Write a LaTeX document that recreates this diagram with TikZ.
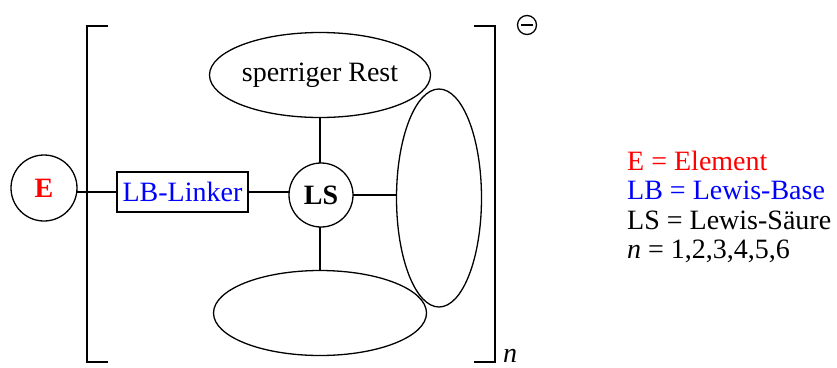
\documentclass[tikz,border=0pt]{standalone}
\usepackage{fontspec}
\setmainfont{Liberation Serif}
\usetikzlibrary{shapes.geometric}
\begin{document}
\begin{tikzpicture}[x=1pt,y=-1pt,
  every node/.style={font=\fontsize{28}{30}\selectfont},
  ln/.style={line width=1.3pt},
  ring/.style={draw,ln,circle,inner sep=0pt,outer sep=0pt},
  oval/.style={draw,ln,ellipse,inner sep=0pt,outer sep=0pt},
  linkbox/.style={draw,ln,rectangle,inner sep=0pt,outer sep=0pt,minimum width=131pt,minimum height=40pt},
  bracket/.style={line width=1.6pt},
  legend/.style={anchor=base west,inner sep=0pt}]
\useasboundingbox (0,0) rectangle (837,367);
% brackets
\draw[bracket] (108,26) -- (87,26) -- (87,362) -- (108,362);
\draw[bracket] (474,26) -- (495,26) -- (495,362) -- (474,362);
% nodes
\node[ring,minimum size=66pt,text=red] (E) at (44,188) {\textbf{E}};
\node[linkbox,text=blue] (LB) at (182.5,192) {LB-Linker};
\node[ring,minimum size=64pt] (LS) at (321,195) {\textbf{LS}};
\node[oval,minimum width=214pt,minimum height=85pt] (top) at (320,75) {sperriger Rest};
\node[oval,minimum width=213pt,minimum height=85pt] (bot) at (320,313) {};
\node[oval,minimum width=85pt,minimum height=218pt] (rgt) at (439,198) {};
% connectors
\draw[ln] (E.east |- LB.west) -- (LB.west);
\draw[ln] (LB.east) -- (LB.east -| LS.west);
\draw[ln] (top.south) -- (top.south |- LS.north);
\draw[ln] (bot.north) -- (bot.north |- LS.south);
\draw[ln] (LS.east) -- (LS.east -| rgt.west);
% charge
\node[ring,minimum size=19pt] (minus) at (527,25) {};
\draw[ln] ([xshift=3.5pt]minus.west) -- ([xshift=-3.5pt]minus.east);
\node[anchor=base west,inner sep=0pt] (nsub) at (503,362) {\textit{n}};
% legend
\node[legend,text=red] (leg1) at (627,170) {E = Element};
\node[legend,text=blue] (leg2) at (627,199) {LB = Lewis-Base};
\node[legend] (leg3) at (627,229) {LS = Lewis-Säure};
\node[legend] (leg4) at (627,258) {\textit{n} = 1,2,3,4,5,6};
\end{tikzpicture}
\end{document}
